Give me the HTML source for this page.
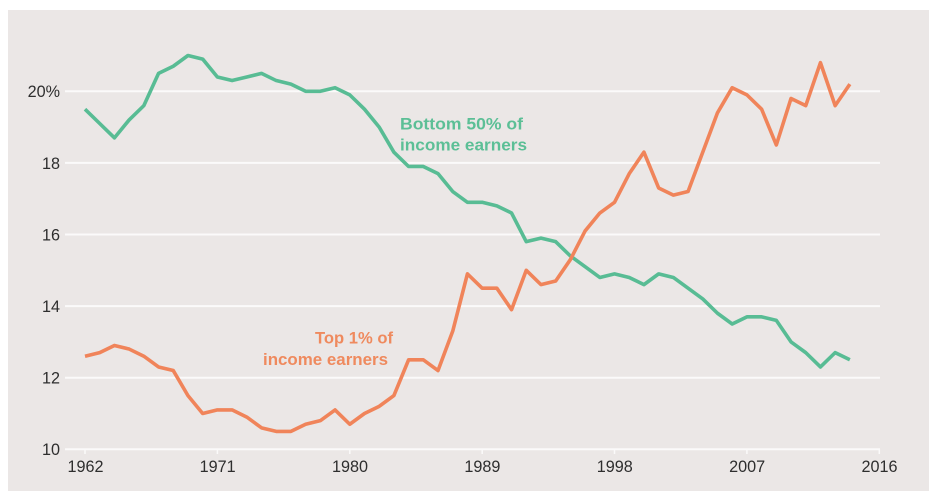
<!DOCTYPE html>
<html>
<head>
<meta charset="utf-8">
<style>
html,body{margin:0;padding:0;background:#ffffff;}
body{width:936px;height:500px;overflow:hidden;}
svg{display:block;}
text{font-family:"Liberation Sans",sans-serif;}
</style>
</head>
<body>
<svg width="936" height="500" viewBox="0 0 936 500" xmlns="http://www.w3.org/2000/svg">
  <rect x="0" y="0" width="936" height="500" fill="#ffffff"/>
  <rect x="8" y="10" width="921" height="481" fill="#ebe7e6"/>

  <!-- gridlines -->
  <g stroke="#fbfafa" stroke-width="2">
    <line x1="65" y1="91.3" x2="880" y2="91.3"/>
    <line x1="65" y1="162.9" x2="880" y2="162.9"/>
    <line x1="65" y1="234.5" x2="880" y2="234.5"/>
    <line x1="65" y1="306.1" x2="880" y2="306.1"/>
    <line x1="65" y1="377.7" x2="880" y2="377.7"/>
    <line x1="65" y1="449.3" x2="880" y2="449.3"/>
  </g>
  <!-- ticks -->
  <g stroke="#fbfafa" stroke-width="1.5">
    <line x1="85" y1="449" x2="85" y2="454"/>
    <line x1="217.4" y1="449" x2="217.4" y2="454"/>
    <line x1="349.8" y1="449" x2="349.8" y2="454"/>
    <line x1="482.2" y1="449" x2="482.2" y2="454"/>
    <line x1="614.5" y1="449" x2="614.5" y2="454"/>
    <line x1="746.9" y1="449" x2="746.9" y2="454"/>
    <line x1="879.3" y1="449" x2="879.3" y2="454"/>
  </g>

  <!-- y labels -->
  <g fill="#2e2e2e" font-size="16.2" text-anchor="end">
    <text x="60" y="97.2">20%</text>
    <text x="60" y="168.8">18</text>
    <text x="60" y="240.4">16</text>
    <text x="60" y="312">14</text>
    <text x="60" y="383.6">12</text>
    <text x="60" y="455.2">10</text>
  </g>
  <!-- x labels -->
  <g fill="#2e2e2e" font-size="16.2" text-anchor="middle">
    <text x="85.5" y="472">1962</text>
    <text x="217.6" y="472">1971</text>
    <text x="350" y="472">1980</text>
    <text x="482.4" y="472">1989</text>
    <text x="614.7" y="472">1998</text>
    <text x="747.1" y="472">2007</text>
    <text x="879.5" y="472">2016</text>
  </g>

  <!-- series -->
  <g transform="translate(85,807.3) scale(14.709,-35.8)">
    <polyline fill="none" stroke="#58bc94" stroke-width="3.6" vector-effect="non-scaling-stroke" stroke-linejoin="round" stroke-linecap="butt"
      points="0,19.5 1,19.1 2,18.7 3,19.2 4,19.6 5,20.5 6,20.7 7,21.0 8,20.9 9,20.4 10,20.3 11,20.4 12,20.5 13,20.3 14,20.2 15,20.0 16,20.0 17,20.1 18,19.9 19,19.5 20,19.0 21,18.3 22,17.9 23,17.9 24,17.7 25,17.2 26,16.9 27,16.9 28,16.8 29,16.6 30,15.8 31,15.9 32,15.8 33,15.4 34,15.1 35,14.8 36,14.9 37,14.8 38,14.6 39,14.9 40,14.8 41,14.5 42,14.2 43,13.8 44,13.5 45,13.7 46,13.7 47,13.6 48,13.0 49,12.7 50,12.3 51,12.7 52,12.5"/>
    <polyline fill="none" stroke="#f0845a" stroke-width="3.6" vector-effect="non-scaling-stroke" stroke-linejoin="round" stroke-linecap="butt"
      points="0,12.6 1,12.7 2,12.9 3,12.8 4,12.6 5,12.3 6,12.2 7,11.5 8,11.0 9,11.1 10,11.1 11,10.9 12,10.6 13,10.5 14,10.5 15,10.7 16,10.8 17,11.1 18,10.7 19,11.0 20,11.2 21,11.5 22,12.5 23,12.5 24,12.2 25,13.3 26,14.9 27,14.5 28,14.5 29,13.9 30,15.0 31,14.6 32,14.7 33,15.3 34,16.1 35,16.6 36,16.9 37,17.7 38,18.3 39,17.3 40,17.1 41,17.2 42,18.3 43,19.4 44,20.1 45,19.9 46,19.5 47,18.5 48,19.8 49,19.6 50,20.8 51,19.6 52,20.2"/>
  </g>

  <!-- annotations -->
  <g fill="#5cbf96" font-size="16.5" font-weight="bold">
    <text x="400" y="129.5" textLength="123" lengthAdjust="spacingAndGlyphs">Bottom 50% of</text>
    <text x="400" y="150.5" textLength="127" lengthAdjust="spacingAndGlyphs">income earners</text>
  </g>
  <g fill="#ef8a5e" font-size="16.5" font-weight="bold">
    <text x="315" y="343.5" textLength="78" lengthAdjust="spacingAndGlyphs">Top 1% of</text>
    <text x="263" y="365" textLength="125" lengthAdjust="spacingAndGlyphs">income earners</text>
  </g>
</svg>
</body>
</html>
